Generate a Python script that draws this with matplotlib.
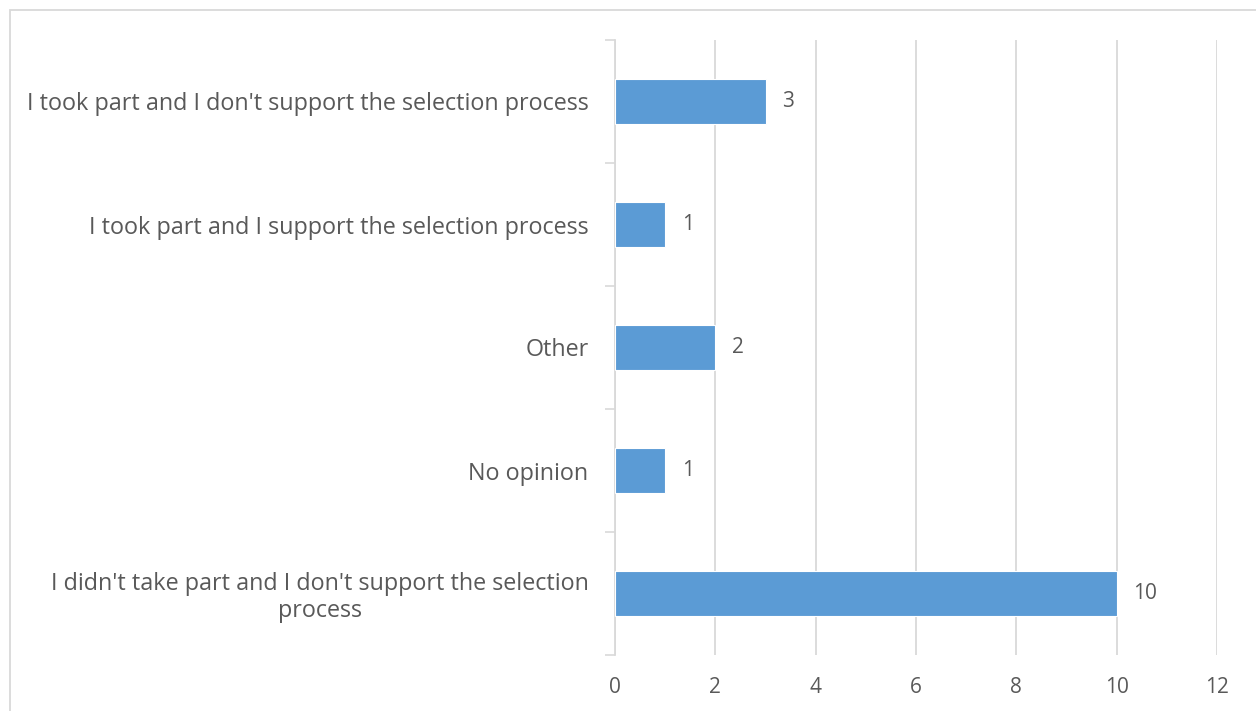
import matplotlib.pyplot as plt
from matplotlib.patches import Rectangle

# data (bottom to top, as drawn)
categories = [
    "I didn't take part and I don't support the selection\nprocess",
    "No opinion",
    "Other",
    "I took part and I support the selection process",
    "I took part and I don't support the selection process",
]
counts = [10, 1, 2, 1, 3]
xticks = [0, 2, 4, 6, 8, 10, 12]

plt.rcParams['font.family'] = ['Open Sans', 'DejaVu Sans']
grey = '#595959'
line = '#d9d9d9'

fig = plt.figure(figsize=(12.56, 7.11), dpi=100)
ax = fig.add_axes([615 / 1256, 1 - 655 / 711, (1217 - 615) / 1256, (655 - 40) / 711])

pos = list(range(len(categories)))
ax.barh(pos, counts, height=0.37, color='#5b9bd5', edgecolor='white',
        linewidth=0.8, zorder=3)
for y, v in zip(pos, counts):
    ax.annotate(str(v), (v, y), xytext=(12, 0), textcoords='offset points',
                ha='left', va='center', fontsize=15, color=grey)

ax.set_xlim(0, 12)
ax.set_ylim(-0.5, len(categories) - 0.5)
ax.set_xticks(xticks)
ax.set_xticklabels([str(t) for t in xticks], fontsize=15, color=grey)
ax.set_yticks(pos)
ax.set_yticklabels(categories, fontsize=16.8, color=grey,
                   multialignment='center', linespacing=1.15)
ax.set_yticks([p - 0.5 for p in range(len(categories) + 1)], minor=True)
ax.tick_params(axis='y', which='major', length=0, pad=19)
ax.tick_params(axis='y', which='minor', length=7.5, color=line, width=1.2)
ax.tick_params(axis='x', length=0, pad=16)
ax.grid(axis='x', color=line, linewidth=1.3, zorder=0)
ax.set_axisbelow(True)
for s in ['top', 'right', 'bottom']:
    ax.spines[s].set_visible(False)
ax.spines['left'].set_color(line)
ax.spines['left'].set_linewidth(1.3)

# outer chart border
fig.patches.append(Rectangle((10 / 1256, -0.1), 1.2, 1 - 10 / 711 + 0.1,
                             transform=fig.transFigure, fill=False,
                             edgecolor=line, linewidth=1.3))

fig.savefig('out.png', dpi=100)
